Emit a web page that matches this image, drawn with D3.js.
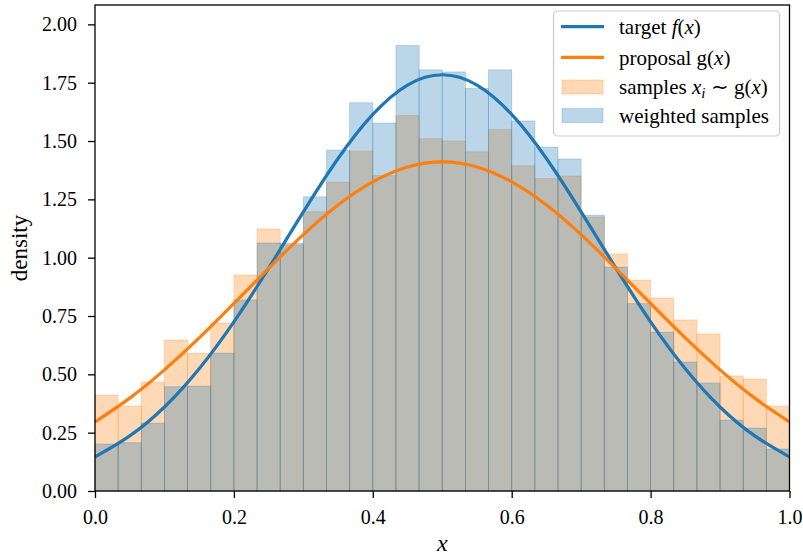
<!DOCTYPE html>
<html>
<head>
<meta charset="utf-8">
<script src="https://cdn.jsdelivr.net/npm/d3@7"></script>
<style>
  body { margin: 0; background: #fff; }
  text { font-family: "Liberation Serif", "Times New Roman", serif; fill: #000; }
</style>
</head>
<body>
<div id="chart"></div>
<script>
var binCount = 30
var samplesDensity = [0.411, 0.364, 0.467, 0.647, 0.591, 0.720, 0.926, 1.123, 1.055, 1.197,
  1.324, 1.457, 1.352, 1.609, 1.510, 1.500, 1.454, 1.549, 1.394, 1.339,
  1.350, 1.174, 1.016, 0.904, 0.827, 0.733, 0.673, 0.493, 0.480, 0.364]
var weightedDensity = [0.201, 0.207, 0.291, 0.447, 0.450, 0.591, 0.819, 1.063, 1.062, 1.261,
  1.461, 1.664, 1.577, 1.909, 1.805, 1.796, 1.725, 1.805, 1.586, 1.474,
  1.423, 1.182, 0.960, 0.803, 0.681, 0.553, 0.463, 0.304, 0.270, 0.180]

var curveX = [0, 0.05, 0.1, 0.15, 0.2, 0.25, 0.3, 0.35, 0.4, 0.45, 0.5,
  0.55, 0.6, 0.65, 0.7, 0.75, 0.8, 0.85, 0.9, 0.95, 1.0]
var targetF = [0.146, 0.236, 0.360, 0.524, 0.725, 0.955, 1.196, 1.425, 1.614, 1.740, 1.784,
  1.740, 1.614, 1.425, 1.196, 0.955, 0.725, 0.524, 0.360, 0.236, 0.146]
var proposalG = [0.296, 0.398, 0.519, 0.656, 0.804, 0.954, 1.099, 1.226, 1.325, 1.389, 1.411,
  1.389, 1.325, 1.226, 1.099, 0.954, 0.804, 0.656, 0.519, 0.398, 0.296]

var xTicks = [0, 0.2, 0.4, 0.6, 0.8, 1.0]
var yTicks = [0, 0.25, 0.5, 0.75, 1.0, 1.25, 1.5, 1.75, 2.0]

var blue = '#1f77b4'
var orange = '#ff7f0e'

var width = 803, height = 557
var margin = {top: 5, right: 13.5, bottom: 66, left: 95}

var svg = d3.select('#chart').append('svg')
  .attr('width', width)
  .attr('height', height)

var x = d3.scaleLinear().domain([0, 1]).range([margin.left, width - margin.right])
var y = d3.scaleLinear().domain([0, 2.083]).range([height - margin.bottom, margin.top])

var edges = d3.range(binCount + 1).map(function (i) { return i / binCount })

svg.append('clipPath').attr('id', 'plotClip')
  .append('rect')
  .attr('x', x(0)).attr('y', y(2.083))
  .attr('width', x(1) - x(0)).attr('height', y(0) - y(2.083))

function drawHist(values, color) {
  svg.append('g')
    .selectAll('rect')
    .data(values)
    .enter().append('rect')
    .attr('x', function (d, i) { return x(edges[i]) })
    .attr('width', function (d, i) { return x(edges[i + 1]) - x(edges[i]) })
    .attr('y', function (d) { return y(d) })
    .attr('height', function (d) { return y(0) - y(d) })
    .attr('fill', color)
    .attr('fill-opacity', 0.3)
    .attr('stroke', color)
    .attr('stroke-opacity', 0.3)
    .attr('stroke-width', 0.8)
}

drawHist(samplesDensity, orange)
drawHist(weightedDensity, blue)

var line = d3.line()
  .x(function (d, i) { return x(curveX[i]) })
  .y(function (d) { return y(d) })
  .curve(d3.curveNatural)

svg.append('path')
  .attr('clip-path', 'url(#plotClip)')
  .attr('d', line(targetF))
  .attr('fill', 'none')
  .attr('stroke', blue)
  .attr('stroke-width', 3.2)

svg.append('path')
  .attr('clip-path', 'url(#plotClip)')
  .attr('d', line(proposalG))
  .attr('fill', 'none')
  .attr('stroke', orange)
  .attr('stroke-width', 3.2)

// axes
svg.append('g')
  .attr('transform', 'translate(0,' + y(0) + ')')
  .call(d3.axisBottom(x).tickValues(xTicks).tickFormat(d3.format('.1f')).tickSize(7).tickPadding(12).tickSizeOuter(0))
svg.append('g')
  .attr('transform', 'translate(' + x(0) + ',0)')
  .call(d3.axisLeft(y).tickValues(yTicks).tickFormat(d3.format('.2f')).tickSize(7).tickPadding(11).tickSizeOuter(0))

svg.selectAll('.domain').remove()
svg.selectAll('.tick line').attr('stroke', '#000').attr('stroke-width', 1.3)
svg.selectAll('.tick text')
  .style('font-family', '"Liberation Serif", serif')
  .style('font-size', '20px')
  .attr('fill', '#000')

svg.append('rect')
  .attr('x', x(0)).attr('y', y(2.083))
  .attr('width', x(1) - x(0)).attr('height', y(0) - y(2.083))
  .attr('fill', 'none')
  .attr('stroke', '#000')
  .attr('stroke-width', 1.3)

svg.append('text')
  .attr('transform', 'translate(27,' + ((y(0) + y(2.083)) / 2) + ') rotate(-90)')
  .attr('text-anchor', 'middle')
  .style('font-size', '23px')
  .text('density')

svg.append('text')
  .attr('x', (x(0) + x(1)) / 2)
  .attr('y', 551)
  .attr('text-anchor', 'middle')
  .style('font-size', '24px')
  .style('font-style', 'italic')
  .text('x')

// legend
var legend = svg.append('g')
legend.append('rect')
  .attr('x', 553.5).attr('y', 11)
  .attr('width', 226).attr('height', 125)
  .attr('rx', 4)
  .attr('fill', '#fff').attr('fill-opacity', 0.8)
  .attr('stroke', '#cccccc').attr('stroke-width', 1.2)

var rows = [
  {kind: 'line', color: blue, cy: 26.7, base: 34.3},
  {kind: 'line', color: orange, cy: 57.3, base: 65},
  {kind: 'patch', color: orange, cy: 87, base: 94.3},
  {kind: 'patch', color: blue, cy: 115.5, base: 123.3}
]

rows.forEach(function (r) {
  if (r.kind === 'line') {
    legend.append('line')
      .attr('x1', 561).attr('x2', 604)
      .attr('y1', r.cy).attr('y2', r.cy)
      .attr('stroke', r.color).attr('stroke-width', 3.2)
  } else {
    legend.append('rect')
      .attr('x', 562).attr('y', r.cy - 7)
      .attr('width', 41).attr('height', 14)
      .attr('fill', r.color).attr('fill-opacity', 0.3)
      .attr('stroke', r.color).attr('stroke-opacity', 0.3).attr('stroke-width', 0.8)
  }
})

function legendText(base) {
  return legend.append('text').attr('x', 619).attr('y', base).style('font-size', '21px')
}

var t1 = legendText(rows[0].base)
t1.append('tspan').text('target ')
t1.append('tspan').style('font-style', 'italic').text('f')
t1.append('tspan').text('(')
t1.append('tspan').style('font-style', 'italic').text('x')
t1.append('tspan').text(')')

var t2 = legendText(rows[1].base)
t2.append('tspan').text('proposal ')
t2.append('tspan').text('g')
t2.append('tspan').text('(')
t2.append('tspan').style('font-style', 'italic').text('x')
t2.append('tspan').text(')')

var t3 = legendText(rows[2].base)
t3.append('tspan').text('samples ')
t3.append('tspan').style('font-style', 'italic').text('x')
t3.append('tspan').style('font-style', 'italic').style('font-size', '15px').attr('dy', 4).text('i')
t3.append('tspan').attr('dy', -4).text(' \u223C ')
t3.append('tspan').text('g')
t3.append('tspan').text('(')
t3.append('tspan').style('font-style', 'italic').text('x')
t3.append('tspan').text(')')

var t4 = legendText(rows[3].base)
t4.text('weighted samples')
</script>
</body>
</html>
